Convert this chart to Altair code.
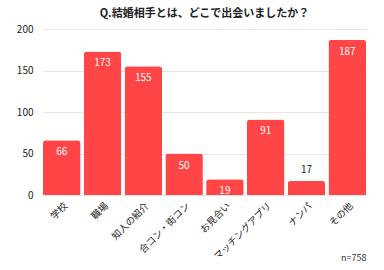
import altair as alt
import pandas as pd

categories = ["学校", "職場", "知人の紹介", "合コン・街コン", "お見合い", "マッチングアプリ", "ナンパ", "その他"]
values = [66, 173, 155, 50, 19, 91, 17, 187]
y_ticks = [0, 50, 100, 150, 200]
title_text = "Q.結婚相手とは、どこで出会いましたか？"
note_text = "n=758"

df = pd.DataFrame({"cat": categories, "val": values})
df["inside"] = df["val"] >= 18

FONT = "Noto Sans CJK JP"
COLOR = "#FF4545"

x = alt.X("cat:N", sort=categories,
          scale=alt.Scale(paddingInner=0.08, paddingOuter=0),
          axis=alt.Axis(title=note_text, labelAngle=-45, labelAlign="right", labelBaseline="middle",
                        labelFontSize=9.5, labelColor="#222", labelFont=FONT, labelPadding=9,
                        labelOffset=4, ticks=False, domain=False,
                        titleX=323, titleY=67, titleAlign="right", titleBaseline="bottom", titleFontSize=9,
                        titleFontWeight="normal", titleColor="#333", titleFont=FONT))
y = alt.Y("val:Q", scale=alt.Scale(domain=[0, 200]),
          axis=alt.Axis(title=None, values=y_ticks, labelFontSize=10, labelColor="#222", labelFont=FONT,
                        labelPadding=10, ticks=False, domain=False, gridColor="#e6e6e6"))

bars = alt.Chart(df).mark_bar(color=COLOR, cornerRadiusTopLeft=3, cornerRadiusTopRight=3).encode(x=x, y=y)

inside = alt.Chart(df).transform_filter("datum.inside").mark_text(
    baseline="top", dy=7, color="white", fontSize=10, font=FONT
).encode(x=alt.X("cat:N", sort=categories), y="val:Q", text="val:Q")

outside = alt.Chart(df).transform_filter("!datum.inside").mark_text(
    baseline="bottom", dy=-6, color="#222", fontSize=10, font=FONT
).encode(x=alt.X("cat:N", sort=categories), y="val:Q", text="val:Q")

chart = alt.layer(bars, inside, outside).properties(
    width=323, height=166,
    title=alt.TitleParams(title_text, fontSize=11, fontWeight="bold", font=FONT, color="#222",
                          anchor="middle", offset=5),
    autosize=alt.AutoSizeParams(type="none"),
    padding={"left": 43, "top": 29, "right": 18, "bottom": 75},
).configure_view(stroke=None)

chart.save("out.html", embed_options={"renderer": "svg", "actions": False})
